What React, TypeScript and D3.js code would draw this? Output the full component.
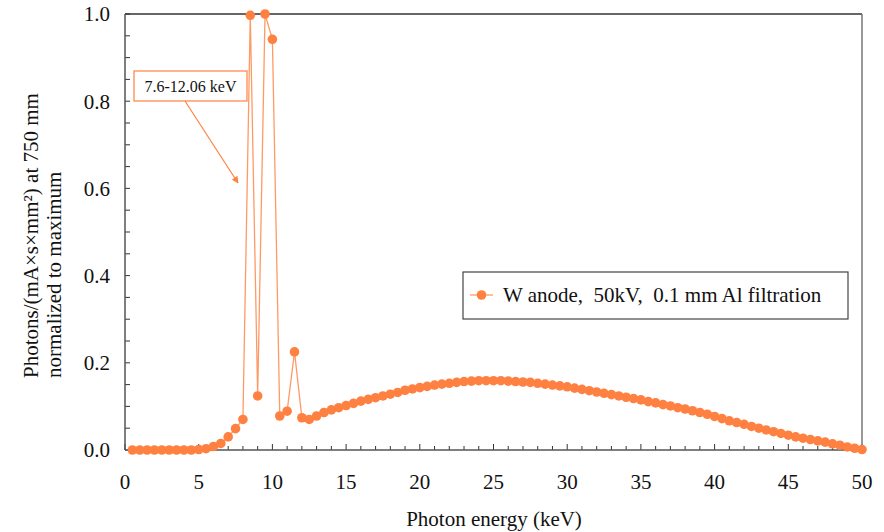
import React from "react";
import * as d3 from "d3";

const energies: number[] = [
  0.5, 1, 1.5, 2, 2.5, 3, 3.5, 4, 4.5, 5, 5.5, 6, 6.5, 7, 7.5, 8, 8.5, 9, 9.5, 10,
  10.5, 11, 11.5, 12, 12.5, 13, 13.5, 14, 14.5, 15, 15.5, 16, 16.5, 17, 17.5, 18, 18.5, 19, 19.5, 20,
  20.5, 21, 21.5, 22, 22.5, 23, 23.5, 24, 24.5, 25, 25.5, 26, 26.5, 27, 27.5, 28, 28.5, 29, 29.5, 30,
  30.5, 31, 31.5, 32, 32.5, 33, 33.5, 34, 34.5, 35, 35.5, 36, 36.5, 37, 37.5, 38, 38.5, 39, 39.5, 40,
  40.5, 41, 41.5, 42, 42.5, 43, 43.5, 44, 44.5, 45, 45.5, 46, 46.5, 47, 47.5, 48, 48.5, 49, 49.5, 50,
];

const photons: number[] = [
  0, 0, 0, 0, 0, 0, 0, 0, 0, 0.001, 0.003, 0.008, 0.015, 0.03, 0.049, 0.07, 0.997, 0.124, 1.0, 0.942,
  0.078, 0.089, 0.225, 0.074, 0.07, 0.078, 0.086, 0.092, 0.097, 0.102, 0.107, 0.112, 0.116, 0.12, 0.124, 0.128, 0.132, 0.137, 0.14, 0.143,
  0.146, 0.149, 0.151, 0.153, 0.155, 0.157, 0.158, 0.159, 0.159, 0.159, 0.159, 0.158, 0.157, 0.156, 0.155, 0.153, 0.151, 0.149, 0.147, 0.145,
  0.142, 0.139, 0.136, 0.133, 0.13, 0.127, 0.124, 0.121, 0.118, 0.115, 0.111, 0.108, 0.104, 0.101, 0.097, 0.094, 0.09, 0.086, 0.082, 0.077,
  0.072, 0.067, 0.063, 0.059, 0.054, 0.05, 0.046, 0.042, 0.038, 0.034, 0.03, 0.027, 0.024, 0.021, 0.018, 0.014, 0.011, 0.007, 0.004, 0.001,
];

const xTickLabels: number[] = [0, 5, 10, 15, 20, 25, 30, 35, 40, 45, 50];
const yTickLabels: number[] = [0, 0.2, 0.4, 0.6, 0.8, 1.0];

const seriesName = "W anode,  50kV,  0.1 mm Al filtration";
const annotationText = "7.6-12.06 keV";
const xTitle = "Photon energy (keV)";
const yTitle1 = "Photons/(mA×s×mm²) at 750 mm";
const yTitle2 = "normalized to maximum";

const W = 884;
const H = 532;
const left = 125;
const right = 862;
const top = 14;
const bottom = 450;

const ORANGE = "#ff8142";
const LINE = "#ff9a66";
const AXIS = "#555555";
const FONT = '"Liberation Serif", "DejaVu Serif", serif';

const txt = (size: number): React.CSSProperties => ({
  fontFamily: FONT,
  fontSize: size + "px",
  whiteSpace: "pre",
});

export default function App() {
  const x = d3.scaleLinear().domain([0, 50]).range([left, right]);
  const y = d3.scaleLinear().domain([0, 1]).range([bottom, top]);

  const data = energies.map((e, i) => ({ e, v: photons[i] }));
  const line = d3
    .line<{ e: number; v: number }>()
    .x((d) => x(d.e))
    .y((d) => y(d.v));

  const xMinor = d3.range(0, 51, 1);
  const yMinor = d3.range(0, 1.0001, 0.05);

  const arrowStart = { x: 185, y: 101 };
  const arrowEnd = { x: 238, y: 183 };

  return (
    <svg
      width={W}
      height={H}
      style={{ position: "absolute", left: 0, top: 0, background: "#fff" }}
    >
      <defs>
        <marker
          id="arrowhead"
          viewBox="0 0 10 10"
          refX="9"
          refY="5"
          markerWidth="7"
          markerHeight="7"
          orient="auto-start-reverse"
          markerUnits="userSpaceOnUse"
        >
          <path d="M0,0 L10,5 L0,10 Z" fill={ORANGE} />
        </marker>
      </defs>

      {/* ticks */}
      {xMinor.map((t) => (
        <line
          key={"xt" + t}
          x1={x(t)}
          x2={x(t)}
          y1={bottom}
          y2={bottom - (t % 5 === 0 ? 6 : 4)}
          stroke="#333"
          strokeWidth={1}
        />
      ))}
      {yMinor.map((t, i) => (
        <line
          key={"yt" + i}
          x1={left}
          x2={left + 5}
          y1={y(t)}
          y2={y(t)}
          stroke="#333"
          strokeWidth={1}
        />
      ))}

      {/* frame */}
      <line x1={left} x2={right} y1={top} y2={top} stroke="#333" strokeWidth={1.5} />
      <line x1={right} x2={right} y1={top} y2={bottom} stroke="#777" strokeWidth={1.5} />
      <line x1={left} x2={left} y1={top} y2={bottom} stroke={AXIS} strokeWidth={1.5} />
      <line x1={left} x2={right} y1={bottom} y2={bottom} stroke={AXIS} strokeWidth={1.5} />

      {/* tick labels */}
      {yTickLabels.map((t) => (
        <text
          key={"yl" + t}
          x={110}
          y={y(t)}
          dy="0.35em"
          textAnchor="end"
          style={txt(21)}
          fill="#111"
        >
          {t.toFixed(1)}
        </text>
      ))}
      {xTickLabels.map((t) => (
        <text
          key={"xl" + t}
          x={x(t)}
          y={482}
          dy="0.35em"
          textAnchor="middle"
          style={txt(21)}
          fill="#111"
        >
          {t}
        </text>
      ))}

      {/* axis titles */}
      <text x={494} y={519} dy="0.35em" textAnchor="middle" style={txt(21)} fill="#111">
        {xTitle}
      </text>
      <text
        transform={`translate(38,378) rotate(-90)`}
        textAnchor="start"
        style={txt(21)}
        fill="#111"
      >
        {yTitle1}
      </text>
      <text
        transform={`translate(61,378) rotate(-90)`}
        textAnchor="start"
        style={txt(21)}
        fill="#111"
      >
        {yTitle2}
      </text>

      {/* series */}
      <path d={line(data) || ""} fill="none" stroke={LINE} strokeWidth={1.3} />
      {data.map((d, i) => (
        <circle key={"p" + i} cx={x(d.e)} cy={y(d.v)} r={4.8} fill={ORANGE} />
      ))}

      {/* annotation */}
      <line
        x1={arrowStart.x}
        y1={arrowStart.y}
        x2={arrowEnd.x}
        y2={arrowEnd.y}
        stroke={ORANGE}
        strokeWidth={1.2}
        markerEnd="url(#arrowhead)"
      />
      <rect x={134} y={71} width={113} height={30} fill="#fff" stroke={ORANGE} strokeWidth={1.2} />
      <text x={190.5} y={86} dy="0.35em" textAnchor="middle" style={txt(16)} fill="#111">
        {annotationText}
      </text>

      {/* legend */}
      <rect x={463} y={272} width={385} height={47} fill="#fff" stroke="#444" strokeWidth={1.2} />
      <line x1={470} x2={493} y1={295} y2={295} stroke={LINE} strokeWidth={1.3} />
      <circle cx={481.5} cy={295} r={4.8} fill={ORANGE} />
      <text x={503} y={295} dy="0.35em" style={txt(21)} fill="#111">
        {seriesName}
      </text>
    </svg>
  );
}
